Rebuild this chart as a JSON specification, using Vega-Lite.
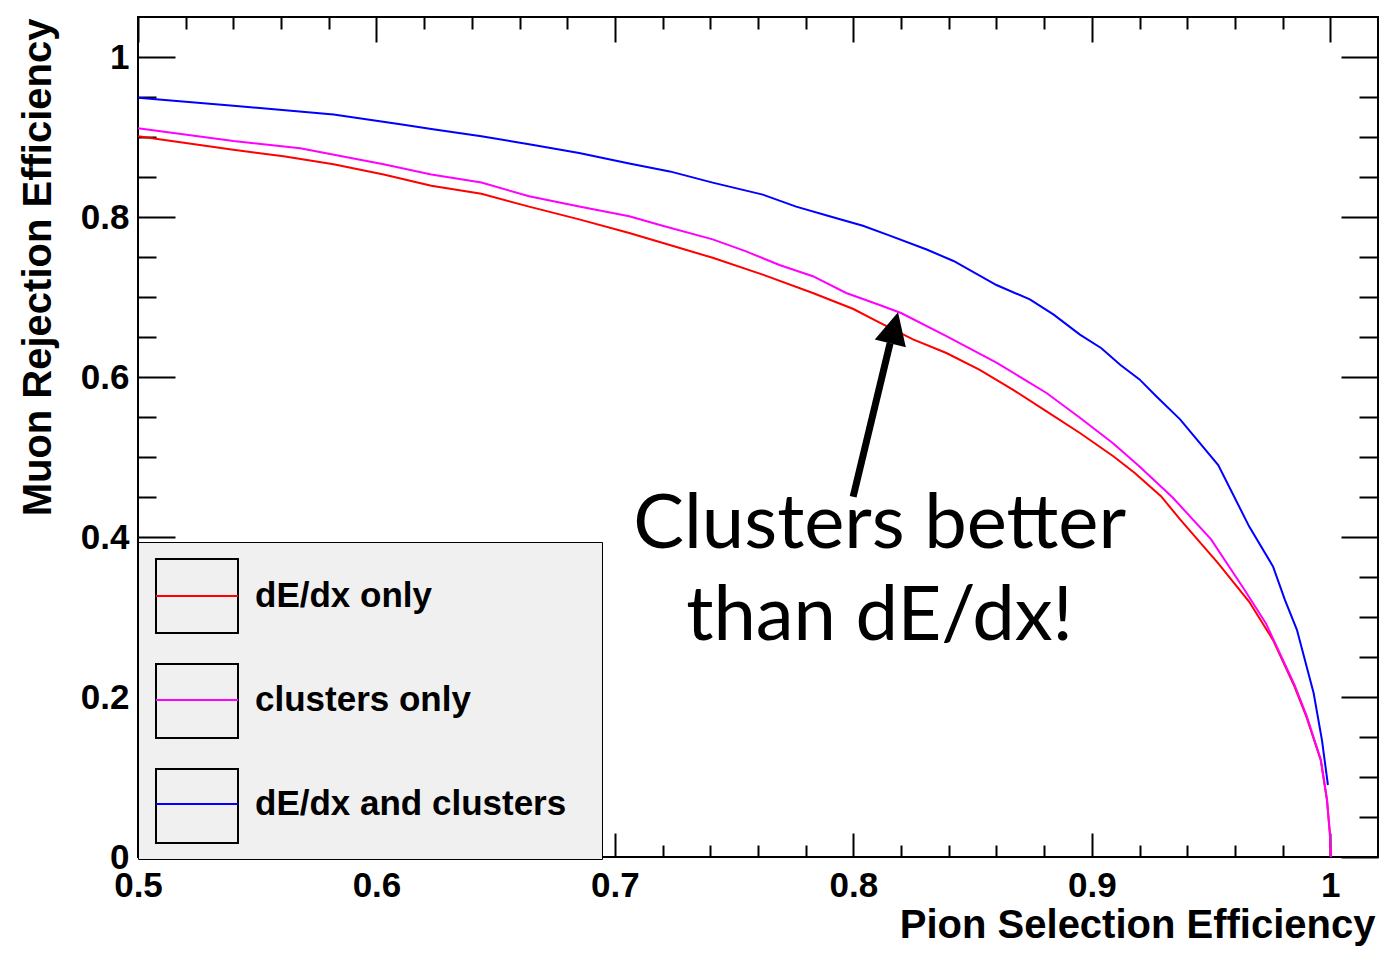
{
  "$schema": "https://vega.github.io/schema/vega-lite/v6.json",
  "width": 1240,
  "height": 840,
  "autosize": {"type": "none"},
  "padding": {"left": 138, "top": 17, "right": 3, "bottom": 122},
  "background": "white",
  "config": {
    "view": {"stroke": "black", "strokeWidth": 2},
    "axis": {
      "domain": false, "grid": false, "tickColor": "black", "tickWidth": 2,
      "labelFont": "Liberation Sans", "labelFontWeight": "bold", "labelFontSize": 35, "labelColor": "black",
      "titleFont": "Liberation Sans", "titleFontWeight": "bold", "titleFontSize": 40, "titleColor": "black",
      "labelFlush": false, "labelOverlap": false, "labelBound": false
    }
  },
  "datasets": {
    "curves": [
      {"series": "dE/dx only", "x": 0.500, "y": 0.901},
      {"series": "dE/dx only", "x": 0.540, "y": 0.884},
      {"series": "dE/dx only", "x": 0.561, "y": 0.876},
      {"series": "dE/dx only", "x": 0.582, "y": 0.866},
      {"series": "dE/dx only", "x": 0.603, "y": 0.853},
      {"series": "dE/dx only", "x": 0.623, "y": 0.839},
      {"series": "dE/dx only", "x": 0.644, "y": 0.829},
      {"series": "dE/dx only", "x": 0.664, "y": 0.813},
      {"series": "dE/dx only", "x": 0.685, "y": 0.797},
      {"series": "dE/dx only", "x": 0.706, "y": 0.780},
      {"series": "dE/dx only", "x": 0.723, "y": 0.765},
      {"series": "dE/dx only", "x": 0.741, "y": 0.749},
      {"series": "dE/dx only", "x": 0.762, "y": 0.728},
      {"series": "dE/dx only", "x": 0.783, "y": 0.705},
      {"series": "dE/dx only", "x": 0.800, "y": 0.685},
      {"series": "dE/dx only", "x": 0.811, "y": 0.668},
      {"series": "dE/dx only", "x": 0.825, "y": 0.647},
      {"series": "dE/dx only", "x": 0.839, "y": 0.630},
      {"series": "dE/dx only", "x": 0.853, "y": 0.609},
      {"series": "dE/dx only", "x": 0.867, "y": 0.584},
      {"series": "dE/dx only", "x": 0.881, "y": 0.557},
      {"series": "dE/dx only", "x": 0.895, "y": 0.530},
      {"series": "dE/dx only", "x": 0.909, "y": 0.501},
      {"series": "dE/dx only", "x": 0.918, "y": 0.480},
      {"series": "dE/dx only", "x": 0.929, "y": 0.451},
      {"series": "dE/dx only", "x": 0.937, "y": 0.422},
      {"series": "dE/dx only", "x": 0.953, "y": 0.367},
      {"series": "dE/dx only", "x": 0.966, "y": 0.319},
      {"series": "dE/dx only", "x": 0.976, "y": 0.271},
      {"series": "dE/dx only", "x": 0.985, "y": 0.213},
      {"series": "dE/dx only", "x": 0.990, "y": 0.175},
      {"series": "dE/dx only", "x": 0.996, "y": 0.121},
      {"series": "dE/dx only", "x": 0.9986, "y": 0.071},
      {"series": "dE/dx only", "x": 0.9998, "y": 0.030},
      {"series": "dE/dx only", "x": 1.0002, "y": 0.0},
      {"series": "clusters only", "x": 0.500, "y": 0.911},
      {"series": "clusters only", "x": 0.540, "y": 0.895},
      {"series": "clusters only", "x": 0.568, "y": 0.886},
      {"series": "clusters only", "x": 0.603, "y": 0.866},
      {"series": "clusters only", "x": 0.623, "y": 0.853},
      {"series": "clusters only", "x": 0.644, "y": 0.843},
      {"series": "clusters only", "x": 0.664, "y": 0.826},
      {"series": "clusters only", "x": 0.685, "y": 0.813},
      {"series": "clusters only", "x": 0.706, "y": 0.801},
      {"series": "clusters only", "x": 0.720, "y": 0.789},
      {"series": "clusters only", "x": 0.741, "y": 0.772},
      {"series": "clusters only", "x": 0.755, "y": 0.757},
      {"series": "clusters only", "x": 0.769, "y": 0.740},
      {"series": "clusters only", "x": 0.783, "y": 0.726},
      {"series": "clusters only", "x": 0.797, "y": 0.705},
      {"series": "clusters only", "x": 0.811, "y": 0.690},
      {"series": "clusters only", "x": 0.820, "y": 0.680},
      {"series": "clusters only", "x": 0.839, "y": 0.651},
      {"series": "clusters only", "x": 0.860, "y": 0.618},
      {"series": "clusters only", "x": 0.881, "y": 0.580},
      {"series": "clusters only", "x": 0.895, "y": 0.549},
      {"series": "clusters only", "x": 0.909, "y": 0.517},
      {"series": "clusters only", "x": 0.920, "y": 0.488},
      {"series": "clusters only", "x": 0.934, "y": 0.449},
      {"series": "clusters only", "x": 0.950, "y": 0.397},
      {"series": "clusters only", "x": 0.964, "y": 0.334},
      {"series": "clusters only", "x": 0.973, "y": 0.292},
      {"series": "clusters only", "x": 0.985, "y": 0.215},
      {"series": "clusters only", "x": 0.990, "y": 0.177},
      {"series": "clusters only", "x": 0.996, "y": 0.122},
      {"series": "clusters only", "x": 0.9986, "y": 0.072},
      {"series": "clusters only", "x": 0.9998, "y": 0.030},
      {"series": "clusters only", "x": 1.0002, "y": 0.0},
      {"series": "dE/dx and clusters", "x": 0.500, "y": 0.949},
      {"series": "dE/dx and clusters", "x": 0.540, "y": 0.939},
      {"series": "dE/dx and clusters", "x": 0.582, "y": 0.928},
      {"series": "dE/dx and clusters", "x": 0.610, "y": 0.916},
      {"series": "dE/dx and clusters", "x": 0.623, "y": 0.910},
      {"series": "dE/dx and clusters", "x": 0.644, "y": 0.901},
      {"series": "dE/dx and clusters", "x": 0.664, "y": 0.891},
      {"series": "dE/dx and clusters", "x": 0.685, "y": 0.880},
      {"series": "dE/dx and clusters", "x": 0.706, "y": 0.867},
      {"series": "dE/dx and clusters", "x": 0.723, "y": 0.857},
      {"series": "dE/dx and clusters", "x": 0.741, "y": 0.843},
      {"series": "dE/dx and clusters", "x": 0.762, "y": 0.828},
      {"series": "dE/dx and clusters", "x": 0.776, "y": 0.813},
      {"series": "dE/dx and clusters", "x": 0.790, "y": 0.801},
      {"series": "dE/dx and clusters", "x": 0.804, "y": 0.789},
      {"series": "dE/dx and clusters", "x": 0.815, "y": 0.777},
      {"series": "dE/dx and clusters", "x": 0.831, "y": 0.759},
      {"series": "dE/dx and clusters", "x": 0.842, "y": 0.745},
      {"series": "dE/dx and clusters", "x": 0.860, "y": 0.715},
      {"series": "dE/dx and clusters", "x": 0.874, "y": 0.697},
      {"series": "dE/dx and clusters", "x": 0.884, "y": 0.678},
      {"series": "dE/dx and clusters", "x": 0.895, "y": 0.653},
      {"series": "dE/dx and clusters", "x": 0.904, "y": 0.636},
      {"series": "dE/dx and clusters", "x": 0.912, "y": 0.615},
      {"series": "dE/dx and clusters", "x": 0.920, "y": 0.597},
      {"series": "dE/dx and clusters", "x": 0.927, "y": 0.576},
      {"series": "dE/dx and clusters", "x": 0.937, "y": 0.547},
      {"series": "dE/dx and clusters", "x": 0.953, "y": 0.490},
      {"series": "dE/dx and clusters", "x": 0.966, "y": 0.413},
      {"series": "dE/dx and clusters", "x": 0.976, "y": 0.363},
      {"series": "dE/dx and clusters", "x": 0.981, "y": 0.321},
      {"series": "dE/dx and clusters", "x": 0.986, "y": 0.284},
      {"series": "dE/dx and clusters", "x": 0.993, "y": 0.205},
      {"series": "dE/dx and clusters", "x": 0.9965, "y": 0.146},
      {"series": "dE/dx and clusters", "x": 0.999, "y": 0.090}
    ],
    "arrow": [{"x": 0.7999, "y": 0.4503, "x2": 0.8154, "y2": 0.6423}],
    "head": [{"x": 0.8171, "y": 0.6614}],
    "note": [{"x": 0.811, "y": 0.3865, "text": "Clusters better\nthan dE/dx!"}]
  },
  "resolve": {"axis": {"x": "independent", "y": "independent"}},
  "layer": [
    {
      "data": {"name": "curves"},
      "mark": {"type": "line", "strokeWidth": 2, "interpolate": "linear"},
      "encoding": {
        "x": {
          "field": "x", "type": "quantitative",
          "scale": {"domain": [0.5, 1.02], "nice": false, "zero": false},
          "axis": {
            "orient": "bottom",
            "values": [0.5, 0.52, 0.54, 0.56, 0.58, 0.6, 0.62, 0.64, 0.66, 0.68, 0.7, 0.72, 0.74, 0.76, 0.78, 0.8, 0.82, 0.84, 0.86, 0.88, 0.9, 0.92, 0.94, 0.96, 0.98, 1.0],
            "format": "~g",
            "labelExpr": "abs(datum.value * 10 - round(datum.value * 10)) < 0.001 ? datum.label : ''",
            "tickSize": {"condition": {"test": "abs(datum.value * 10 - round(datum.value * 10)) < 0.001", "value": -24}, "value": -12},
            "labelPadding": 35,
            "title": "Pion Selection Efficiency",
            "titleAlign": "right", "titleAnchor": "end", "titleBaseline": "alphabetic",
            "titleX": 1237, "titleY": 80
          }
        },
        "y": {
          "field": "y", "type": "quantitative",
          "scale": {"domain": [0, 1.05], "nice": false, "zero": false},
          "axis": {
            "orient": "left",
            "values": [0, 0.05, 0.1, 0.15, 0.2, 0.25, 0.3, 0.35, 0.4, 0.45, 0.5, 0.55, 0.6, 0.65, 0.7, 0.75, 0.8, 0.85, 0.9, 0.95, 1.0],
            "format": "~g",
            "labelExpr": "abs(datum.value * 5 - round(datum.value * 5)) < 0.001 ? datum.label : ''",
            "tickSize": {"condition": {"test": "abs(datum.value * 5 - round(datum.value * 5)) < 0.001", "value": -37}, "value": -18},
            "labelPadding": 46,
            "title": "Muon Rejection Efficiency",
            "titleAlign": "right", "titleAnchor": "end", "titleBaseline": "alphabetic",
            "titleAngle": 270, "titleX": -88, "titleY": 1
          }
        },
        "color": {
          "field": "series", "type": "nominal",
          "scale": {"domain": ["dE/dx only", "clusters only", "dE/dx and clusters"], "range": ["#ff0000", "#ff00ff", "#0000ff"]},
          "legend": {
            "orient": "none", "legendX": 0, "legendY": 525, "title": null, "zindex": 1,
            "padding": 12, "symbolType": "stroke", "symbolSize": 6724, "symbolStrokeWidth": 2,
            "symbolOffset": 5, "labelOffset": 16, "rowPadding": 44,
            "labelFont": "Liberation Sans", "labelFontWeight": "bold", "labelFontSize": 35, "labelColor": "black",
            "labelLimit": 0
          }
        }
      }
    },
    {
      "data": {"name": "curves"},
      "mark": {"type": "point", "opacity": 0},
      "encoding": {
        "x": {
          "field": "x", "type": "quantitative",
          "scale": {"domain": [0.5, 1.02], "nice": false, "zero": false},
          "axis": {
            "orient": "top", "labels": false, "title": null,
            "values": [0.5, 0.52, 0.54, 0.56, 0.58, 0.6, 0.62, 0.64, 0.66, 0.68, 0.7, 0.72, 0.74, 0.76, 0.78, 0.8, 0.82, 0.84, 0.86, 0.88, 0.9, 0.92, 0.94, 0.96, 0.98, 1.0],
            "tickSize": {"condition": {"test": "abs(datum.value * 10 - round(datum.value * 10)) < 0.001", "value": -25}, "value": -12}
          }
        },
        "y": {
          "field": "y", "type": "quantitative",
          "scale": {"domain": [0, 1.05], "nice": false, "zero": false},
          "axis": {
            "orient": "right", "labels": false, "title": null,
            "values": [0, 0.05, 0.1, 0.15, 0.2, 0.25, 0.3, 0.35, 0.4, 0.45, 0.5, 0.55, 0.6, 0.65, 0.7, 0.75, 0.8, 0.85, 0.9, 0.95, 1.0],
            "tickSize": {"condition": {"test": "abs(datum.value * 5 - round(datum.value * 5)) < 0.001", "value": -37}, "value": -19}
          }
        },
        "shape": {
          "field": "series", "type": "nominal",
          "scale": {"range": ["M-1,-0.9H1V0.9H-1Z"]},
          "legend": {
            "orient": "none", "legendX": 0, "legendY": 525, "title": null, "zindex": 0,
            "fillColor": "#f0f0f0", "strokeColor": "black",
            "padding": 12, "symbolSize": 6724, "symbolStrokeColor": "black", "symbolStrokeWidth": 2,
            "symbolFillColor": "transparent", "symbolOpacity": 1,
            "symbolOffset": 5, "labelOffset": 341, "rowPadding": 22,
            "labelFont": "Liberation Sans", "labelFontWeight": "bold", "labelFontSize": 35, "labelOpacity": 0,
            "labelLimit": 0, "labelExpr": "'.'"
          }
        }
      }
    },
    {
      "data": {"name": "arrow"},
      "mark": {"type": "rule", "strokeWidth": 7, "color": "black", "strokeCap": "butt"},
      "encoding": {
        "x": {"field": "x", "type": "quantitative", "scale": {"domain": [0.5, 1.02], "nice": false, "zero": false}, "axis": null},
        "y": {"field": "y", "type": "quantitative", "scale": {"domain": [0, 1.05], "nice": false, "zero": false}, "axis": null},
        "x2": {"field": "x2"},
        "y2": {"field": "y2"}
      }
    },
    {
      "data": {"name": "head"},
      "mark": {"type": "point", "shape": "M0,-1L1,1L-1,1Z", "size": 1024, "angle": 14, "filled": true, "color": "black", "opacity": 1, "strokeWidth": 0},
      "encoding": {
        "x": {"field": "x", "type": "quantitative", "scale": {"domain": [0.5, 1.02], "nice": false, "zero": false}, "axis": null},
        "y": {"field": "y", "type": "quantitative", "scale": {"domain": [0, 1.05], "nice": false, "zero": false}, "axis": null}
      }
    },
    {
      "data": {"name": "note"},
      "mark": {"type": "text", "font": "Lato", "fontSize": 76, "lineHeight": 92, "lineBreak": "\n", "align": "center", "baseline": "alphabetic", "color": "black"},
      "encoding": {
        "x": {"field": "x", "type": "quantitative", "scale": {"domain": [0.5, 1.02], "nice": false, "zero": false}, "axis": null},
        "y": {"field": "y", "type": "quantitative", "scale": {"domain": [0, 1.05], "nice": false, "zero": false}, "axis": null},
        "text": {"field": "text"}
      }
    }
  ]
}
